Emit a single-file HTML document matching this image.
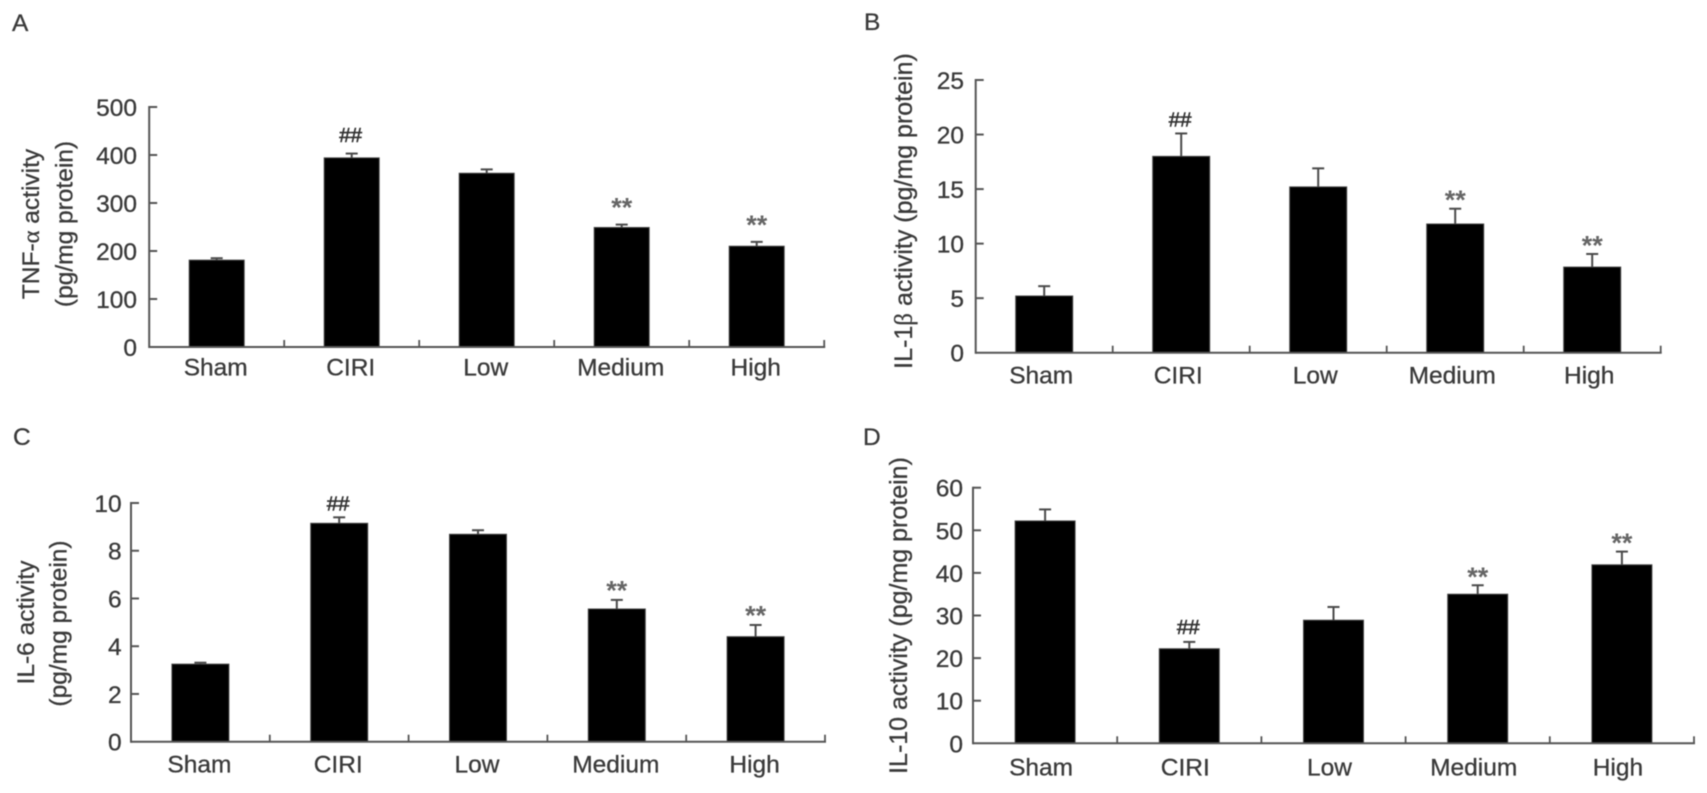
<!DOCTYPE html>
<html lang="en">
<head>
<meta charset="utf-8">
<title>Cytokine activity bar charts</title>
<style>
  html, body { margin: 0; padding: 0; background: #fff; }
  body { width: 1707px; height: 793px; overflow: hidden; }
  svg { display: block; filter: blur(0.45px); }
  text { font-family: "Liberation Sans", sans-serif; fill: #3a3a3a; stroke: #3a3a3a; stroke-width: 0.3px; }
</style>
</head>
<body>
<svg id="figure" xmlns="http://www.w3.org/2000/svg" width="1707" height="793" viewBox="0 0 1707 793">
  <rect x="0" y="0" width="1707" height="793" fill="#ffffff"/>
</svg>
<script>
// ---- Data ----
const categories = ['Sham', 'CIRI', 'Low', 'Medium', 'High'];
const significance = ['', '##', '', '**', '**'];

const tnfValues = [181, 394, 362, 249, 210];
const tnfUpper = [185, 403, 370, 255, 219];
const tnfTicks = [0, 100, 200, 300, 400, 500];

const il1Values = [5.2, 18, 15.2, 11.8, 7.85];
const il1Upper = [6.1, 20.1, 16.9, 13.2, 9.05];
const il1Ticks = [0, 5, 10, 15, 20, 25];

const il6Values = [3.25, 9.15, 8.69, 5.56, 4.4];
const il6Upper = [3.31, 9.4, 8.86, 5.94, 4.89];
const il6Ticks = [0, 2, 4, 6, 8, 10];

const il10Values = [52.2, 22.2, 28.9, 35, 41.9];
const il10Upper = [54.9, 23.8, 32, 37.1, 45];
const il10Ticks = [0, 10, 20, 30, 40, 50, 60];

// ---- Panel layout ----
const panels = [
  { id: 'tnf', letter: 'A', letterX: 12, letterY: 31,
    left: 149.2, right: 824.2, top: 107, bottom: 347, barW: 55,
    values: tnfValues, upper: tnfUpper, ticks: tnfTicks,
    tickLabelX: 137, catBaseline: 375.5, catShift: -1,
    hashGap: 11.5, starGap: 21.5, titleSize: 24.5,
    titles: [
      { x: 39, y: 224, parts: [['TNF-', 0], ['α', 1], [' activity', 0]] },
      { x: 72.5, y: 224, parts: [['(pg/mg protein)', 0]] }
    ] },
  { id: 'il1', letter: 'B', letterX: 864, letterY: 30,
    left: 975.7, right: 1660.7, top: 80, bottom: 352.7, barW: 57,
    values: il1Values, upper: il1Upper, ticks: il1Ticks,
    tickLabelX: 964, catBaseline: 383.5, catShift: -3,
    hashGap: 7, starGap: 13, titleSize: 25,
    titles: [
      { x: 912, y: 211, parts: [['IL-1', 0], ['β', 1], [' activity (pg/mg protein)', 0]] }
    ] },
  { id: 'il6', letter: 'C', letterX: 13, letterY: 445,
    left: 131, right: 825, top: 503, bottom: 741.7, barW: 57,
    values: il6Values, upper: il6Upper, ticks: il6Ticks,
    tickLabelX: 121.7, catBaseline: 772.3, catShift: -1,
    hashGap: 6.6, starGap: 14, titleSize: 24.5,
    titles: [
      { x: 34, y: 622.5, parts: [['IL-6 activity', 0]] },
      { x: 66.5, y: 623.5, parts: [['(pg/mg protein)', 0]] }
    ] },
  { id: 'il10', letter: 'D', letterX: 863, letterY: 445,
    left: 973, right: 1694, top: 487.7, bottom: 743.3, barW: 60,
    values: il10Values, upper: il10Upper, ticks: il10Ticks,
    tickLabelX: 963, catBaseline: 775.7, catShift: -4,
    hashGap: 7.7, starGap: 13, titleSize: 25,
    titles: [
      { x: 907, y: 615.5, parts: [['IL-10 activity (pg/mg protein)', 0]] }
    ] }
];

const NS = 'http://www.w3.org/2000/svg';
const svg = document.getElementById('figure');
const AXIS_COLOR = '#555555';

function make(tag, parent, attrs, content) {
  const node = document.createElementNS(NS, tag);
  Object.keys(attrs).forEach(function (k) { node.setAttribute(k, attrs[k]); });
  if (content !== undefined) node.textContent = content;
  parent.appendChild(node);
  return node;
}

panels.forEach(function (p) {
  const n = categories.length;
  const maxTick = p.ticks[p.ticks.length - 1];
  const yScale = function (v) { return p.bottom - (v / maxTick) * (p.bottom - p.top); };
  const slot = (p.right - p.left) / n;
  const xScale = function (i) { return p.left + slot * (i + 0.5); };

  const g = make('g', svg, {});
  
  

  const letter = make('text', g, { x: p.letterX, y: p.letterY, 'font-size': 24.5 }, p.letter);
  
  

  p.titles.forEach(function (t, ti) {
    const title = make('text', g, {
      x: t.x, y: t.y, 'font-size': p.titleSize, 'text-anchor': 'middle',
      transform: 'rotate(-90 ' + t.x + ' ' + t.y + ')'
    });
    
    
    t.parts.forEach(function (part) {
      const span = make('tspan', title, part[1] ? { style: 'font-family:"Liberation Serif",serif' } : {}, part[0]);
      
      
    });
  });

  // bars and error bars
  categories.forEach(function (cat, i) {
    const cx = xScale(i);
    const yTop = yScale(p.values[i]);
    const yErr = yScale(p.upper[i]);

    const stem = make('line', g, { x1: cx, x2: cx, y1: yTop, y2: yErr, stroke: '#4a4a4a', 'stroke-width': 2 });
    
    

    const cap = make('line', g, { x1: cx - 6, x2: cx + 6, y1: yErr, y2: yErr, stroke: '#4a4a4a', 'stroke-width': 2 });
    
    

    const bar = make('rect', g, {
      x: cx - p.barW / 2, y: yTop, width: p.barW, height: p.bottom - yTop,
      fill: '#000', stroke: '#444', 'stroke-width': 1
    });
    
    

    const label = make('text', g, {
      x: cx + p.catShift, y: p.catBaseline, 'font-size': 24.5, 'text-anchor': 'middle'
    }, cat);
    
    

    const mark = significance[i];
    if (mark === '##') {
      const hash = make('text', g, {
        x: cx - 1, y: yErr - p.hashGap, 'font-size': 20.5, 'text-anchor': 'middle',
        style: 'fill:#333;stroke:#333;stroke-width:0.6px'
      }, mark);
      
      
    } else if (mark === '**') {
      const stars = make('text', g, {
        x: cx, y: yErr - p.starGap + 13.5, 'font-size': 27, 'font-weight': 'bold', 'text-anchor': 'middle',
        style: 'fill:#666;stroke:none'
      }, mark);
      
      
    }
  });

  // axes
  const yAxis = make('line', g, { x1: p.left, x2: p.left, y1: p.top - 1, y2: p.bottom + 1, stroke: AXIS_COLOR, 'stroke-width': 2 });
  
  

  const xAxis = make('line', g, { x1: p.left, x2: p.right + 1, y1: p.bottom, y2: p.bottom, stroke: AXIS_COLOR, 'stroke-width': 2 });
  
  

  p.ticks.forEach(function (t) {
    const y = yScale(t);
    if (t !== 0) {
      const tick = make('line', g, { x1: p.left, x2: p.left + 8, y1: y, y2: y, stroke: AXIS_COLOR, 'stroke-width': 2 });
      
      
    }
    const label = make('text', g, {
      x: p.tickLabelX, y: y + 9, 'font-size': 24.5, 'text-anchor': 'end'
    }, String(t));
    
    
  });

  for (let k = 1; k <= n; k++) {
    const x = p.left + slot * k;
    const tick = make('line', g, { x1: x, x2: x, y1: p.bottom, y2: p.bottom - 7, stroke: AXIS_COLOR, 'stroke-width': 1.8 });
    
    
  }
});
</script>
</body>
</html>
